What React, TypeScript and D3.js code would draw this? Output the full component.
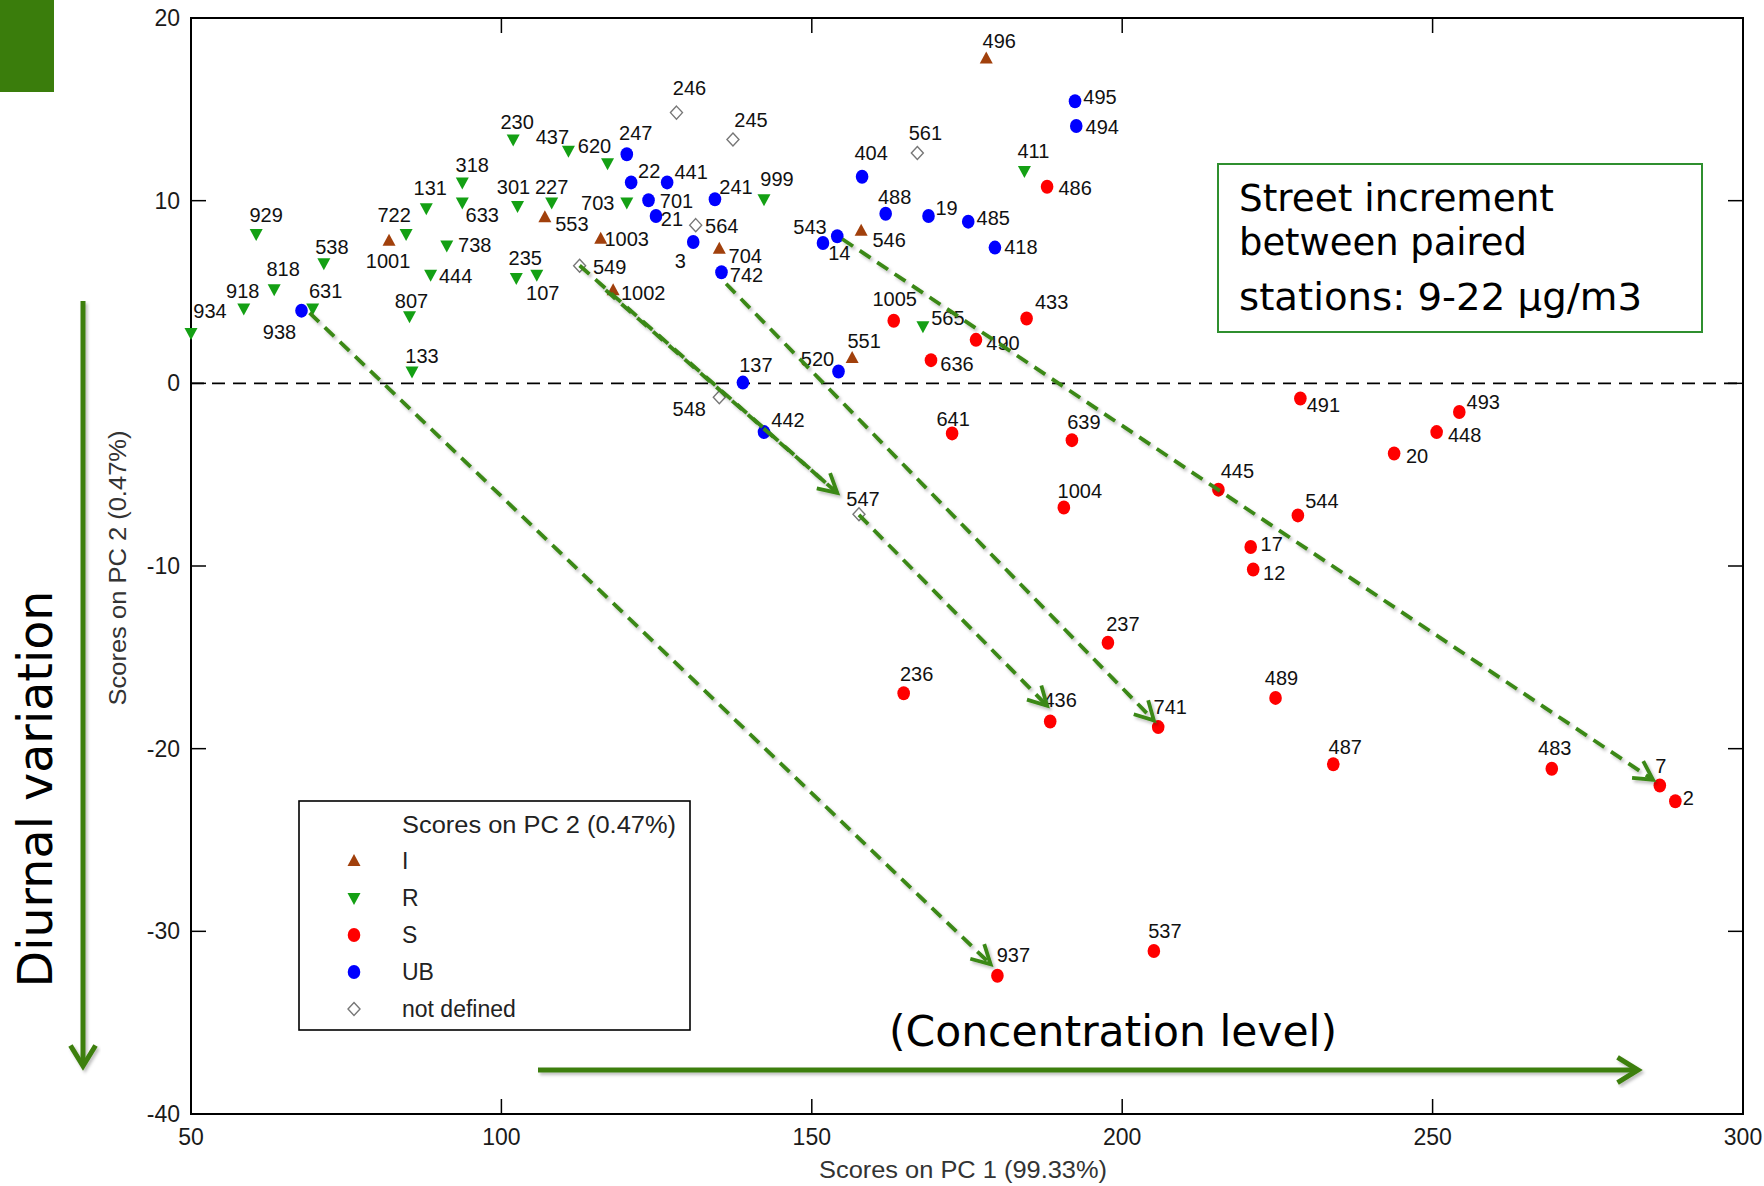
import React from "react";
import * as d3 from "d3";

// scores on PC1 / PC2 per station, by station type
const stationsI: [string, number, number][] = [
  ["1001", 81.9, 7.8], ["553", 107.0, 9.09], ["1003", 116.0, 7.92], ["1002", 118.0, 5.09],
  ["704", 135.1, 7.37], ["496", 178.1, 17.78], ["546", 157.95, 8.35], ["551", 156.5, 1.39],
];

const stationsR: [string, number, number][] = [
  ["934", 50.0, 2.75], ["918", 58.5, 4.1], ["818", 63.4, 5.15], ["929", 60.5, 8.17],
  ["538", 71.4, 6.57], ["631", 69.6, 4.1], ["722", 84.65, 8.17], ["131", 87.9, 9.59],
  ["318", 93.7, 11.0], ["633", 93.7, 9.9], ["738", 91.2, 7.55], ["444", 88.6, 5.95],
  ["807", 85.2, 3.67], ["133", 85.6, 0.65], ["230", 101.9, 13.35], ["301", 102.6, 9.71],
  ["235", 102.4, 5.77], ["107", 105.7, 5.95], ["227", 108.1, 9.9], ["437", 110.8, 12.73],
  ["620", 117.1, 12.05], ["703", 120.2, 9.9], ["999", 142.3, 10.08], ["411", 184.25, 11.62],
  ["565", 167.9, 3.12],
];

const stationsS: [string, number, number][] = [
  ["486", 187.9, 10.76], ["1005", 163.2, 3.43], ["433", 184.6, 3.55], ["490", 176.45, 2.38],
  ["636", 169.2, 1.27], ["641", 172.6, -2.74], ["639", 191.9, -3.11], ["1004", 190.6, -6.8],
  ["491", 228.7, -0.83], ["493", 254.3, -1.57], ["448", 250.65, -2.67], ["20", 243.8, -3.84],
  ["445", 215.5, -5.82], ["544", 228.3, -7.23], ["17", 220.7, -8.96], ["12", 221.1, -10.19],
  ["237", 197.7, -14.2], ["236", 164.8, -16.97], ["489", 224.7, -17.22], ["436", 188.4, -18.51],
  ["741", 205.8, -18.82], ["487", 234.0, -20.85], ["483", 269.2, -21.1], ["7", 286.6, -22.02],
  ["2", 289.1, -22.88], ["537", 205.1, -31.08], ["937", 179.9, -32.43],
];

const stationsUB: [string, number, number][] = [
  ["938", 67.8, 3.98], ["247", 120.2, 12.54], ["22", 120.9, 11.0], ["441", 126.7, 11.0],
  ["701", 123.7, 10.02], ["21", 124.9, 9.16], ["241", 134.4, 10.08], ["3", 130.9, 7.74],
  ["742", 135.45, 6.08], ["404", 158.1, 11.31], ["488", 161.9, 9.28], ["19", 168.8, 9.16],
  ["485", 175.2, 8.85], ["418", 179.5, 7.43], ["495", 192.4, 15.44], ["494", 192.6, 14.09],
  ["543", 151.8, 7.68], ["14", 154.1, 8.05], ["137", 138.9, 0.04], ["520", 154.3, 0.65],
  ["442", 142.3, -2.67],
];

const stationsND: [string, number, number][] = [
  ["246", 128.2, 14.82], ["245", 137.3, 13.35], ["561", 167.0, 12.61], ["564", 131.3, 8.66],
  ["549", 112.6, 6.44], ["548", 135.1, -0.76], ["547", 157.6, -7.17],
];

// paired stations: background -> street (PC1, PC2)
const pairArrows: { from: [number, number]; to: [number, number]; head: boolean }[] = [
  { from: [69.1, 3.86], to: [178.8, -31.8], head: true },
  { from: [112.6, 6.45], to: [154.1, -6.0], head: true },
  { from: [116.8, 5.1], to: [154.1, -6.0], head: false },
  { from: [157.6, -7.2], to: [187.9, -17.65], head: true },
  { from: [136.2, 5.45], to: [205.1, -18.45], head: true },
  { from: [154.9, 7.9], to: [285.5, -21.7], head: true },
];

const xTicks = [50, 100, 150, 200, 250, 300];
const yTicks = [20, 10, 0, -10, -20, -30, -40];

// label placement around each marker (px)
const labelOffset: Record<string, [number, number]> = {
  "934": [19, -22], "918": [-1, -18], "818": [9, -20], "929": [10, -19], "538": [8, -17],
  "631": [13, -18], "722": [-12, -19], "131": [4, -20], "318": [10, -18], "633": [20, 12],
  "738": [28, -1], "444": [25, 1], "807": [2, -15], "133": [10, -16], "230": [4, -18],
  "301": [-4, -19], "235": [9, -20], "107": [6, 18], "227": [0, -16], "437": [-16, -14],
  "620": [-13, -17], "703": [-29, 0], "999": [13, -20], "411": [9, -20], "565": [25, -9],
  "1001": [-1, 20], "553": [27, 7], "1003": [26, 0], "1002": [30, 2], "704": [26, 7],
  "496": [13, -18], "546": [28, 9], "551": [12, -17],
  "938": [-22, 21], "247": [9, -21], "22": [18, -12], "441": [24, -11], "701": [28, 0],
  "21": [16, 3], "241": [21, -12], "3": [-13, 19], "742": [25, 3], "404": [9, -24],
  "488": [9, -17], "19": [18, -8], "485": [25, -4], "418": [26, -1], "495": [25, -4],
  "494": [26, 1], "543": [-13, -16], "14": [2, 17], "137": [13, -18], "520": [-21, -13],
  "442": [24, -12],
  "246": [13, -25], "245": [18, -20], "561": [8, -20], "564": [26, 1], "549": [30, 1],
  "548": [-30, 12], "547": [4, -16],
  "486": [28, 1], "1005": [1, -22], "433": [25, -17], "490": [27, 3], "636": [26, 4],
  "641": [1, -15], "639": [12, -18], "1004": [16, -17], "491": [23, 6], "493": [24, -10],
  "448": [28, 3], "20": [23, 2], "445": [19, -19], "544": [24, -15], "17": [21, -3],
  "12": [21, 3], "237": [15, -19], "236": [13, -20], "489": [6, -20], "436": [10, -22],
  "741": [12, -20], "487": [12, -17], "483": [3, -21], "7": [1, -20], "2": [13, -3],
  "537": [11, -20], "937": [16, -21],
};

const W = 1764;
const H = 1186;
const plot = { left: 191, right: 1743, top: 18, bottom: 1114 };
const labelFont = "'Liberation Sans', Arial, sans-serif";
const annoFont = "'DejaVu Sans', Verdana, sans-serif";
const arrowGreen = "#3a8816";
const solidGreen = "#3d7f10";

type Kind = "I" | "R" | "S" | "UB" | "ND";

function Marker({ kind, x, y }: { kind: Kind; x: number; y: number }) {
  if (kind === "I")
    return <path d={`M${x},${y - 7}L${x + 6.5},${y + 5}L${x - 6.5},${y + 5}Z`} fill="#a1400c" />;
  if (kind === "R")
    return <path d={`M${x - 6.5},${y - 5}L${x + 6.5},${y - 5}L${x},${y + 7}Z`} fill="#14a014" />;
  if (kind === "S") return <ellipse cx={x} cy={y} rx={6.3} ry={7} fill="#ff0000" />;
  if (kind === "UB") return <ellipse cx={x} cy={y} rx={6.3} ry={7} fill="#0000ff" />;
  return (
    <path
      d={`M${x},${y - 6.5}L${x + 6},${y}L${x},${y + 6.5}L${x - 6},${y}Z`}
      fill="#fff"
      stroke="#777"
      strokeWidth={1.4}
    />
  );
}

function chevron(x1: number, y1: number, x2: number, y2: number, len: number, spread: number) {
  const a = Math.atan2(y2 - y1, x2 - x1);
  const p1 = [x2 - len * Math.cos(a - spread), y2 - len * Math.sin(a - spread)];
  const p2 = [x2 - len * Math.cos(a + spread), y2 - len * Math.sin(a + spread)];
  return `M${p1[0]},${p1[1]}L${x2},${y2}L${p2[0]},${p2[1]}`;
}

export default function App() {
  const x = d3.scaleLinear().domain([50, 300]).range([plot.left, plot.right]);
  const y = d3.scaleLinear().domain([-40, 20]).range([plot.bottom, plot.top]);

  const groups: { kind: Kind; data: [string, number, number][] }[] = [
    { kind: "I", data: stationsI },
    { kind: "R", data: stationsR },
    { kind: "S", data: stationsS },
    { kind: "UB", data: stationsUB },
    { kind: "ND", data: stationsND },
  ];

  const legendItems: { kind: Kind; label: string }[] = [
    { kind: "I", label: "I" },
    { kind: "R", label: "R" },
    { kind: "S", label: "S" },
    { kind: "UB", label: "UB" },
    { kind: "ND", label: "not defined" },
  ];

  const tick = 15;

  return (
    <svg
      width={W}
      height={H}
      style={{ position: "absolute", left: 0, top: 0, background: "#fff" }}
    >
      <defs>
        <filter id="shadow" x="-10%" y="-10%" width="130%" height="130%">
          <feDropShadow dx="2" dy="2.5" stdDeviation="1.5" floodColor="#000" floodOpacity="0.25" />
        </filter>
      </defs>
      <rect x={0} y={0} width={W} height={H} fill="#fff" />
      <rect x={0} y={0} width={54} height={92} fill="#3a7d0c" />

      {/* frame */}
      <rect
        x={plot.left}
        y={plot.top}
        width={plot.right - plot.left}
        height={plot.bottom - plot.top}
        fill="none"
        stroke="#000"
        strokeWidth={2}
      />
      {xTicks.map((t) => (
        <g key={"xt" + t}>
          <line x1={x(t)} x2={x(t)} y1={plot.bottom} y2={plot.bottom - tick} stroke="#000" strokeWidth={1.5} />
          <line x1={x(t)} x2={x(t)} y1={plot.top} y2={plot.top + tick} stroke="#000" strokeWidth={1.5} />
          <text x={x(t)} y={plot.bottom + 31} textAnchor="middle" fontFamily={labelFont} fontSize={23} fill="#1a1a1a">
            {t}
          </text>
        </g>
      ))}
      {yTicks.map((t) => (
        <g key={"yt" + t}>
          <line x1={plot.left} x2={plot.left + tick} y1={y(t)} y2={y(t)} stroke="#000" strokeWidth={1.5} />
          <line x1={plot.right} x2={plot.right - tick} y1={y(t)} y2={y(t)} stroke="#000" strokeWidth={1.5} />
          <text x={plot.left - 11} y={y(t) + 8} textAnchor="end" fontFamily={labelFont} fontSize={23} fill="#1a1a1a">
            {t}
          </text>
        </g>
      ))}

      {/* zero line */}
      <line
        x1={plot.left}
        x2={plot.right}
        y1={y(0)}
        y2={y(0)}
        stroke="#000"
        strokeWidth={1.6}
        strokeDasharray="13 8"
      />

      {/* axis labels */}
      <text
        x={963}
        y={1178}
        textAnchor="middle"
        fontFamily={labelFont}
        fontSize={23}
        fill="#333"
        textLength={288}
        lengthAdjust="spacingAndGlyphs"
      >
        Scores on PC 1 (99.33%)
      </text>
      <text
        transform={`translate(126,568) rotate(-90)`}
        textAnchor="middle"
        fontFamily={labelFont}
        fontSize={23}
        fill="#333"
        textLength={275}
        lengthAdjust="spacingAndGlyphs"
      >
        Scores on PC 2 (0.47%)
      </text>

      {/* points */}
      {groups.map((g) =>
        g.data.map(([id, pc1, pc2]) => (
          <Marker key={g.kind + id} kind={g.kind} x={x(pc1)} y={y(pc2)} />
        ))
      )}
      {groups.map((g) =>
        g.data.map(([id, pc1, pc2]) => {
          const [dx, dy] = labelOffset[id] || [12, -18];
          return (
            <text
              key={"l" + id}
              x={x(pc1) + dx}
              y={y(pc2) + dy}
              dy="0.36em"
              textAnchor="middle"
              fontFamily={labelFont}
              fontSize={20}
              fill="#111"
            >
              {id}
            </text>
          );
        })
      )}

      {/* pair arrows */}
      <g filter="url(#shadow)">
        {pairArrows.map((a, i) => {
          const x1 = x(a.from[0]);
          const y1 = y(a.from[1]);
          const x2 = x(a.to[0]);
          const y2 = y(a.to[1]);
          return (
            <g key={"pa" + i}>
              <line x1={x1} y1={y1} x2={x2} y2={y2} stroke={arrowGreen} strokeWidth={3.8} strokeDasharray="13 8" />
              {a.head && (
                <path d={chevron(x1, y1, x2, y2, 21, 0.5)} fill="none" stroke={arrowGreen} strokeWidth={3.8} />
              )}
            </g>
          );
        })}
      </g>

      {/* legend */}
      <rect x={299} y={801} width={391} height={229} fill="#fff" stroke="#000" strokeWidth={1.6} />
      <text
        x={402}
        y={833}
        fontFamily={labelFont}
        fontSize={23}
        fill="#222"
        textLength={274}
        lengthAdjust="spacingAndGlyphs"
      >
        Scores on PC 2 (0.47%)
      </text>
      {legendItems.map((d, i) => {
        const cy = 861 + i * 37;
        return (
          <g key={"lg" + d.kind}>
            <Marker kind={d.kind} x={354} y={cy} />
            <text x={402} y={cy + 8} fontFamily={labelFont} fontSize={23} fill="#222">
              {d.label}
            </text>
          </g>
        );
      })}

      {/* annotation box */}
      <rect x={1218} y={164} width={484} height={168} fill="#fff" stroke="#2f8f2f" strokeWidth={2} />
      <text x={1239} y={211} fontFamily={annoFont} fontSize={37} fill="#000" textLength={315} lengthAdjust="spacingAndGlyphs">
        Street increment
      </text>
      <text x={1239} y={255} fontFamily={annoFont} fontSize={37} fill="#000" textLength={288} lengthAdjust="spacingAndGlyphs">
        between paired
      </text>
      <text x={1239} y={310} fontFamily={annoFont} fontSize={37} fill="#000" textLength={403} lengthAdjust="spacingAndGlyphs">
        stations: 9-22 μg/m3
      </text>

      {/* concentration level */}
      <text x={889} y={1046} fontFamily={annoFont} fontSize={42.6} fill="#000" textLength={448} lengthAdjust="spacingAndGlyphs">
        (Concentration level)
      </text>
      <g filter="url(#shadow)">
        <line x1={538} y1={1070} x2={1637} y2={1070} stroke={solidGreen} strokeWidth={5} />
        <path d={chevron(538, 1070, 1638, 1070, 24, 0.55)} fill="none" stroke={solidGreen} strokeWidth={5} />
      </g>

      {/* diurnal variation */}
      <text
        transform="translate(52,789) rotate(-90)"
        textAnchor="middle"
        fontFamily={annoFont}
        fontSize={47.5}
        fill="#000"
        textLength={397}
        lengthAdjust="spacingAndGlyphs"
      >
        Diurnal variation
      </text>
      <g filter="url(#shadow)">
        <line x1={83} y1={301} x2={83} y2={1064} stroke={solidGreen} strokeWidth={5} />
        <path d={chevron(83, 301, 83, 1066, 24, 0.55)} fill="none" stroke={solidGreen} strokeWidth={5} />
      </g>
    </svg>
  );
}
